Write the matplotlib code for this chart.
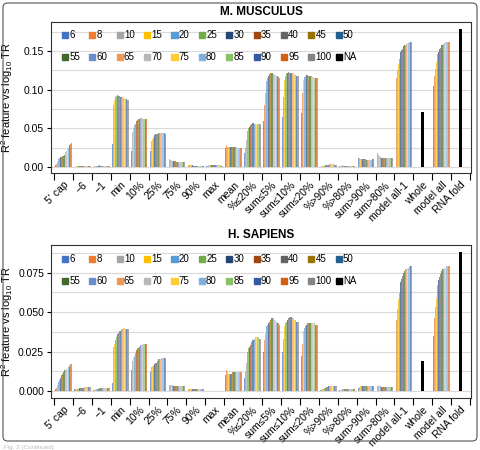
import numpy as np
import matplotlib
matplotlib.use("Agg")
import matplotlib.pyplot as plt
from matplotlib.patches import Rectangle, FancyBboxPatch

plt.rcParams['font.family'] = ['Liberation Sans', 'DejaVu Sans']
plt.rcParams['mathtext.fontset'] = 'custom'
plt.rcParams['mathtext.rm'] = 'Liberation Sans'
plt.rcParams['mathtext.it'] = 'Liberation Sans:italic'

categories = ["5' cap", "\u22126", "\u22121", "min", "10%", "25%", "75%", "90%", "max", "mean",
              "%\u226420%", "sum\u22645%", "sum\u226410%", "sum\u226420%", "%>90%", "%>80%",
              "sum>90%", "sum>80%", "model all-1", "whole", "model all", "RNA fold"]
series = ["6", "8", "10", "15", "20", "25", "30", "35", "40", "45", "50",
          "55", "60", "65", "70", "75", "80", "85", "90", "95", "100", "NA"]
colors = ["#4472C4", "#ED7D31", "#A5A5A5", "#FFC000", "#5B9BD5", "#70AD47", "#264478",
          "#9E480E", "#636363", "#997300", "#255E91", "#43682B", "#698ED0", "#F1975A",
          "#B7B7B7", "#FFCD33", "#7CAFDD", "#8CC168", "#335AA1", "#D26012", "#848484", "#000000"]

# ---- M. musculus: values per category for series 6..100 ----
mm_cap5 = [0.002,0.004,0.006,0.008,0.010,0.012,0.013,0.013,0.013,0.014,0.014,0.015,0.017,0.019,0.021,0.023,0.025,0.027,0.028,0.030,0.031]
mm_m6   = [0.0005,0.0005,0.0006,0.0006,0.0006,0.0007,0.0007,0.0007,0.0007,0.0007,0.0008,0.0008,0.0008,0.0008,0.0008,0.0008,0.0008,0.0008,0.0008,0.0008,0.0008]
mm_m1   = [0.0005,0.0006,0.0008,0.0010,0.0012,0.0015,0.0018,0.0020,0.0020,0.0018,0.0015,0.0012,0.0010,0.0010,0.0010,0.0010,0.0010,0.0010,0.0010,0.0010,0.0010]
mm_min  = [0.030,0.065,0.080,0.087,0.090,0.092,0.093,0.093,0.092,0.092,0.091,0.091,0.090,0.090,0.089,0.089,0.088,0.088,0.088,0.087,0.087]
mm_p10  = [0.020,0.035,0.045,0.050,0.054,0.056,0.058,0.060,0.061,0.062,0.062,0.063,0.063,0.063,0.063,0.063,0.062,0.062,0.062,0.062,0.062]
mm_p25  = [0.020,0.028,0.033,0.036,0.038,0.040,0.041,0.042,0.043,0.043,0.044,0.044,0.044,0.044,0.044,0.044,0.044,0.044,0.044,0.043,0.043]
mm_p75  = [0.012,0.010,0.009,0.009,0.008,0.008,0.008,0.008,0.008,0.007,0.007,0.007,0.007,0.007,0.007,0.007,0.006,0.006,0.006,0.006,0.006]
mm_p90  = [0.003,0.003,0.002,0.002,0.002,0.002,0.002,0.0015,0.0015,0.0015,0.0012,0.0012,0.0012,0.0010,0.0010,0.0010,0.0010,0.0010,0.0010,0.0010,0.0010]
mm_max  = [0.001,0.001,0.002,0.002,0.002,0.002,0.003,0.003,0.002,0.002,0.002,0.002,0.002,0.002,0.002,0.002,0.002,0.002,0.001,0.001,0.001]
mm_mean = [0.024,0.028,0.026,0.026,0.026,0.026,0.026,0.026,0.026,0.026,0.026,0.026,0.026,0.026,0.026,0.025,0.025,0.025,0.025,0.025,0.024]
mm_le20 = [0.018,0.025,0.035,0.042,0.047,0.050,0.052,0.054,0.055,0.056,0.057,0.057,0.056,0.056,0.056,0.056,0.055,0.055,0.055,0.055,0.055]
mm_s5   = [0.060,0.080,0.095,0.105,0.111,0.115,0.118,0.120,0.121,0.122,0.122,0.121,0.121,0.120,0.120,0.119,0.118,0.118,0.117,0.116,0.115]
mm_s10  = [0.065,0.090,0.105,0.113,0.118,0.121,0.122,0.123,0.123,0.122,0.122,0.122,0.121,0.121,0.120,0.120,0.119,0.119,0.118,0.118,0.117]
mm_s20  = [0.070,0.095,0.107,0.113,0.116,0.118,0.119,0.119,0.119,0.118,0.118,0.117,0.117,0.117,0.116,0.116,0.116,0.115,0.115,0.115,0.115]
mm_gt90 = [0.0005,0.0005,0.0008,0.0010,0.0012,0.0015,0.0018,0.0020,0.0022,0.0025,0.0028,0.0030,0.0032,0.0035,0.0038,0.0040,0.0040,0.0035,0.0030,0.0028,0.0025]
mm_gt80 = [0.0008,0.0008,0.0010,0.0010,0.0030,0.0012,0.0010,0.0010,0.0010,0.0010,0.0010,0.0010,0.0010,0.0010,0.0010,0.0010,0.0010,0.0010,0.0010,0.0010,0.0010]
mm_sg90 = [0.011,0.011,0.011,0.010,0.010,0.010,0.010,0.010,0.010,0.010,0.009,0.009,0.009,0.009,0.009,0.009,0.009,0.009,0.010,0.010,0.010]
mm_sg80 = [0.013,0.018,0.016,0.014,0.013,0.013,0.012,0.012,0.012,0.012,0.012,0.012,0.012,0.012,0.012,0.012,0.012,0.012,0.012,0.012,0.012]
mm_all1 = [0.103,0.115,0.125,0.133,0.139,0.144,0.148,0.151,0.153,0.155,0.156,0.157,0.158,0.159,0.159,0.160,0.160,0.161,0.161,0.161,0.161]
mm_mall = [0.105,0.117,0.127,0.135,0.141,0.146,0.149,0.152,0.154,0.156,0.157,0.158,0.159,0.160,0.160,0.161,0.161,0.162,0.162,0.162,0.162]
mm_na_whole = 0.071
mm_na_rna = 0.178

# ---- H. sapiens ----
hs_cap5 = [0.001,0.002,0.004,0.005,0.006,0.007,0.008,0.009,0.010,0.011,0.012,0.013,0.013,0.013,0.014,0.014,0.015,0.016,0.016,0.017,0.017]
hs_m6   = [0.0015,0.0010,0.0010,0.0015,0.0015,0.0015,0.0020,0.0020,0.0020,0.0020,0.0020,0.0022,0.0025,0.0025,0.0025,0.0025,0.0025,0.0025,0.0025,0.0025,0.0025]
hs_m1   = [0.0005,0.0005,0.0008,0.0010,0.0010,0.0012,0.0015,0.0015,0.0018,0.0020,0.0020,0.0020,0.0022,0.0022,0.0022,0.0022,0.0022,0.0022,0.0022,0.0022,0.0022]
hs_min  = [0.005,0.025,0.028,0.030,0.032,0.034,0.035,0.036,0.037,0.038,0.038,0.039,0.039,0.039,0.040,0.040,0.040,0.039,0.039,0.039,0.039]
hs_p10  = [0.013,0.016,0.019,0.021,0.022,0.024,0.025,0.026,0.027,0.027,0.028,0.028,0.029,0.029,0.029,0.030,0.030,0.030,0.030,0.030,0.030]
hs_p25  = [0.012,0.014,0.015,0.016,0.016,0.017,0.017,0.018,0.018,0.019,0.019,0.020,0.020,0.020,0.021,0.021,0.021,0.021,0.021,0.021,0.021]
hs_p75  = [0.003,0.004,0.004,0.004,0.004,0.0035,0.003,0.003,0.003,0.003,0.003,0.003,0.003,0.003,0.003,0.003,0.003,0.003,0.003,0.003,0.003]
hs_p90  = [0.0012,0.0012,0.0012,0.0010,0.0010,0.0010,0.0010,0.0010,0.0010,0.0010,0.0010,0.0010,0.0010,0.0010,0.0010,0.0010,0.0010,0.0010,0.0010,0.0010,0.0010]
hs_max  = [0.0002,0.0002,0.0002,0.0002,0.0002,0.0003,0.0003,0.0003,0.0003,0.0003,0.0003,0.0003,0.0003,0.0003,0.0003,0.0003,0.0003,0.0003,0.0003,0.0003,0.0003]
hs_mean = [0.010,0.013,0.012,0.011,0.011,0.011,0.011,0.011,0.011,0.012,0.012,0.012,0.012,0.012,0.012,0.012,0.012,0.012,0.012,0.012,0.012]
hs_le20 = [0.008,0.012,0.018,0.022,0.025,0.027,0.028,0.029,0.030,0.031,0.032,0.032,0.033,0.033,0.034,0.034,0.034,0.034,0.033,0.033,0.033]
hs_s5   = [0.025,0.032,0.036,0.039,0.041,0.042,0.043,0.044,0.045,0.045,0.046,0.046,0.046,0.046,0.045,0.045,0.044,0.044,0.043,0.043,0.042]
hs_s10  = [0.025,0.033,0.038,0.041,0.043,0.044,0.045,0.046,0.046,0.047,0.047,0.047,0.046,0.046,0.046,0.045,0.045,0.045,0.044,0.044,0.044]
hs_s20  = [0.022,0.030,0.035,0.038,0.040,0.041,0.042,0.042,0.043,0.043,0.043,0.043,0.043,0.043,0.043,0.043,0.043,0.043,0.042,0.042,0.042]
hs_gt90 = [0.0005,0.0008,0.0010,0.0012,0.0015,0.0018,0.0020,0.0022,0.0025,0.0028,0.0030,0.0032,0.0033,0.0034,0.0035,0.0035,0.0035,0.0035,0.0035,0.0035,0.0035]
hs_gt80 = [0.0005,0.0006,0.0008,0.0008,0.0010,0.0010,0.0010,0.0010,0.0010,0.0012,0.0012,0.0012,0.0012,0.0012,0.0012,0.0012,0.0012,0.0012,0.0012,0.0012,0.0012]
hs_sg90 = [0.0020,0.0025,0.0028,0.0030,0.0030,0.0030,0.0032,0.0032,0.0032,0.0032,0.0034,0.0034,0.0034,0.0035,0.0035,0.0035,0.0035,0.0035,0.0035,0.0035,0.0035]
hs_sg80 = [0.0030,0.0030,0.0030,0.0030,0.0030,0.0030,0.0028,0.0028,0.0028,0.0028,0.0028,0.0028,0.0028,0.0028,0.0028,0.0028,0.0028,0.0028,0.0028,0.0028,0.0028]
hs_all1 = [0.035,0.045,0.052,0.058,0.062,0.066,0.069,0.071,0.073,0.074,0.075,0.076,0.077,0.077,0.078,0.078,0.078,0.079,0.079,0.079,0.079]
hs_mall = [0.035,0.046,0.053,0.059,0.063,0.067,0.070,0.072,0.074,0.075,0.076,0.077,0.077,0.078,0.078,0.078,0.079,0.079,0.079,0.079,0.079]
hs_na_whole = 0.019
hs_na_rna = 0.088

mm_groups = [mm_cap5, mm_m6, mm_m1, mm_min, mm_p10, mm_p25, mm_p75, mm_p90, mm_max, mm_mean,
             mm_le20, mm_s5, mm_s10, mm_s20, mm_gt90, mm_gt80, mm_sg90, mm_sg80, mm_all1, None, mm_mall, None]
hs_groups = [hs_cap5, hs_m6, hs_m1, hs_min, hs_p10, hs_p25, hs_p75, hs_p90, hs_max, hs_mean,
             hs_le20, hs_s5, hs_s10, hs_s20, hs_gt90, hs_gt80, hs_sg90, hs_sg80, hs_all1, None, hs_mall, None]

fig = plt.figure(figsize=(4.8, 4.5), dpi=100)

# outer rounded border
fig.patches.append(FancyBboxPatch((3/480, 9/450), 474/480, 438/450,
                                  boxstyle="round,pad=0,rounding_size=0.01",
                                  transform=fig.transFigure, fill=False,
                                  edgecolor="#555555", linewidth=0.8))


def draw(ax, groups, na_whole, na_rna, ylim, yticks, yfmt, minor, title, leg_rows):
    n = 21
    gw = 0.88
    bw = gw / n
    x = np.arange(len(categories))
    for s in range(n):
        xs, hs = [], []
        for ci, g in enumerate(groups):
            if g is None:
                continue
            xs.append(x[ci] - gw / 2 + bw * (s + 0.5))
            hs.append(g[s])
        ax.bar(xs, hs, width=bw, color=colors[s], alpha=0.7, linewidth=0, zorder=2)
    ax.bar([x[19], x[21]], [na_whole, na_rna], width=0.16, color="black", zorder=3)

    ax.set_xlim(-0.66, 21.55)
    ax.set_ylim(*ylim)
    ax.set_yticks(yticks)
    ax.set_yticklabels([yfmt.format(v) for v in yticks], fontsize=7.5)
    ax.set_yticks(minor, minor=True)
    ax.tick_params(axis='y', which='minor', length=0)
    ax.grid(axis='y', which='both', color="#d9d9d9", linewidth=0.8, zorder=0)
    ax.set_axisbelow(True)
    ax.set_xticks(np.arange(-0.5, 22, 1.0))
    ax.set_xticklabels([])
    ax.set_xticks(x, minor=True)
    ax.set_xticklabels(categories, minor=True, rotation=45, ha='right',
                       rotation_mode='anchor', fontsize=7.5)
    ax.tick_params(axis='x', which='minor', length=0, pad=5)
    ax.tick_params(axis='x', which='major', length=5, width=0.8, direction='out')
    ax.tick_params(axis='y', which='major', length=3, width=0.8, pad=2)
    for sp in ax.spines.values():
        sp.set_linewidth(0.8)
        sp.set_color("#333333")
    ax.set_ylabel(r'R$^2$ feature vs log$_{10}$ TR', fontsize=8)
    ax.yaxis.set_label_coords(-0.086, 0.5)
    ax.set_title(title, fontsize=8.5, fontweight='bold', pad=5)

    # legend: 2 rows x 11 columns, evenly spaced
    for i, lab in enumerate(series):
        row, col = divmod(i, 11)
        xc = 0.0333 + col * 0.0652
        yc = leg_rows[row]
        ax.add_patch(Rectangle((xc - 0.0072, yc - 0.02), 0.0144, 0.04,
                               transform=ax.transAxes, color=colors[i],
                               clip_on=False, zorder=5))
        ax.text(xc + 0.010, yc, lab, transform=ax.transAxes, fontsize=7,
                va='center', ha='left', zorder=5)


ax1 = fig.add_axes([51/480, 1 - 173/450, 420/480, 151/450])
draw(ax1, mm_groups, mm_na_whole, mm_na_rna, (-0.0078, 0.1873),
     [0.00, 0.05, 0.10, 0.15], "{:.2f}", [0.025, 0.075, 0.125, 0.175],
     "M. MUSCULUS", [0.914, 0.768])

ax2 = fig.add_axes([51/480, 1 - 398/450, 420/480, 153/450])
draw(ax2, hs_groups, hs_na_whole, hs_na_rna, (-0.0044, 0.0924),
     [0.000, 0.025, 0.050, 0.075], "{:.3f}", [0.0125, 0.0375, 0.0625, 0.0875],
     "H. SAPIENS", [0.908, 0.765])

fig.text(4/480, 1 - 447/450, "Fig. 3 (Continued)", fontsize=4.5, color="#bbbbbb",
         ha='left', va='center')

fig.savefig("out.png", dpi=100)
